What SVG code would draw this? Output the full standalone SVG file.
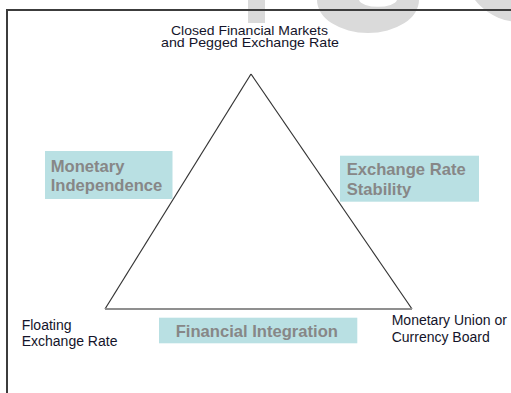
<svg xmlns="http://www.w3.org/2000/svg" width="511" height="393" viewBox="0 0 511 393">
  <style>
    .corner { font-family: "Liberation Sans", Arial, sans-serif; font-size: 14px; fill: #14142a; }
    .corner-top { font-family: "Liberation Sans", Arial, sans-serif; font-size: 12.2px; fill: #14142a; }
    .goal-box { fill: #b9e0e3; }
    .goal { font-family: "Liberation Sans", Arial, sans-serif; font-size: 16.6px; font-weight: bold; fill: #878787; }
    .side { stroke: #333333; stroke-width: 1.2; fill: none; }
    .base { stroke: #8f8f8f; stroke-width: 2; fill: none; }
    .mark { fill: #dadada; }
  </style>
  <rect x="0" y="0" width="511" height="393" fill="#ffffff"/>

  <!-- faint background mark along the top edge -->
  <g id="backdrop-mark">
    <rect class="mark" x="248" y="0" width="17" height="23"/>
    <path class="mark" fill-rule="evenodd" d="M317,0 A51,33 0 0 0 419,0 Z M359,0 A19.2,8 0 0 0 397,0 Z"/>
    <circle class="mark" cx="520" cy="-35" r="57"/>
  </g>

  <!-- outer frame -->
  <rect x="7" y="10" width="600" height="500" fill="none" stroke="#3c3c3c" stroke-width="2"/>

  <!-- triangle edges -->
  <g id="connectors">
    <line class="side" x1="251" y1="74" x2="105" y2="309"/>
    <line class="side" x1="251" y1="74" x2="412" y2="309"/>
    <line class="base" x1="105" y1="309" x2="412" y2="309"/>
  </g>

  <g id="node-top">
    <text class="corner-top" x="171" y="34.5" textLength="157" lengthAdjust="spacingAndGlyphs">Closed Financial Markets</text>
    <text class="corner-top" x="161" y="47.3" textLength="178" lengthAdjust="spacingAndGlyphs">and Pegged Exchange Rate</text>
  </g>

  <g id="node-left">
    <text class="corner" x="21.7" y="330">Floating</text>
    <text class="corner" x="21.7" y="345.7">Exchange Rate</text>
  </g>

  <g id="node-right">
    <text class="corner" x="391.7" y="325">Monetary Union or</text>
    <text class="corner" x="391.7" y="341.7">Currency Board</text>
  </g>

  <g id="goal-monetary">
    <rect class="goal-box" x="45" y="151" width="127.5" height="48"/>
    <text class="goal" x="50.7" y="171.7">Monetary</text>
    <text class="goal" x="50.7" y="190.7">Independence</text>
  </g>

  <g id="goal-exchange">
    <rect class="goal-box" x="340" y="155.7" width="139" height="46"/>
    <text class="goal" x="346.7" y="175">Exchange Rate</text>
    <text class="goal" x="346.7" y="195">Stability</text>
  </g>

  <g id="goal-financial">
    <rect class="goal-box" x="159" y="317.7" width="198.3" height="25.6"/>
    <text class="goal" x="175.7" y="336.7">Financial Integration</text>
  </g>
</svg>
